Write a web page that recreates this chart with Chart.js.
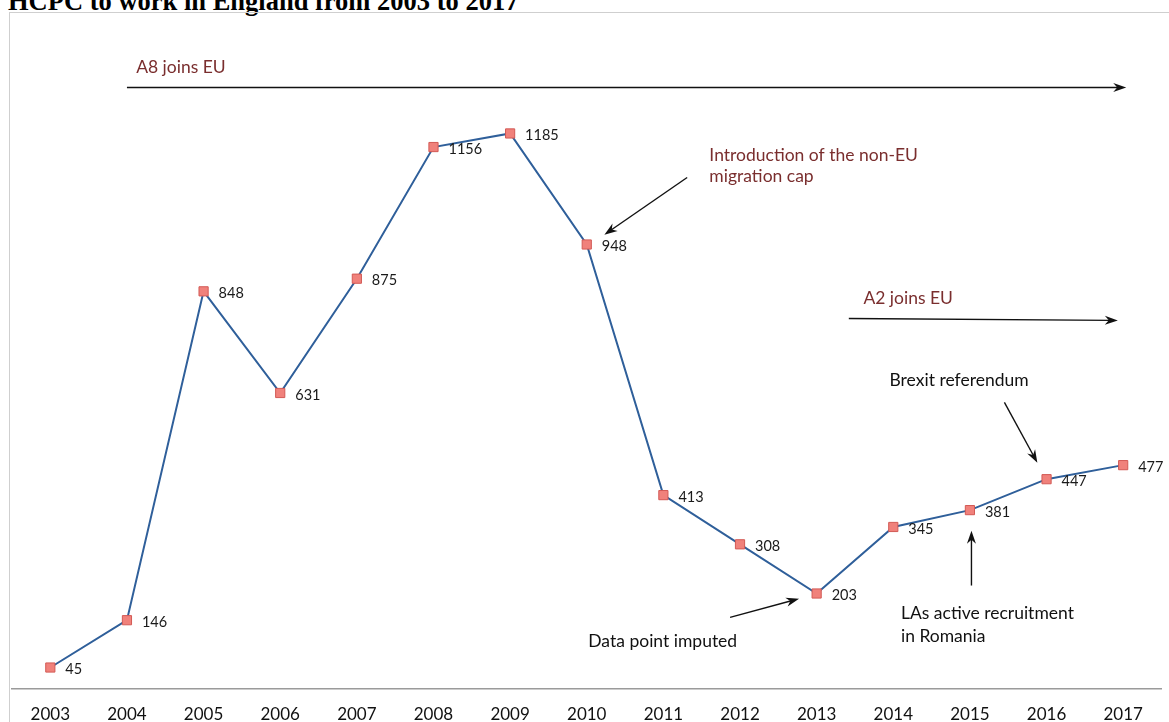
<!DOCTYPE html>
<html>
<head>
<meta charset="utf-8">
<script src="https://cdn.jsdelivr.net/npm/chart.js@4"></script>
<style>
  body{margin:0;background:#fff;overflow:hidden;width:1169px;height:722px;position:relative}
  #titulo{position:absolute;left:8px;top:-12px;font:bold 26.5px "Liberation Serif",serif;line-height:26.5px;color:#000;white-space:nowrap}
  #caixa{position:absolute;left:9px;top:12px;width:1200px;height:800px;border:1px solid #cfcfcf;box-sizing:border-box}
  #grafico{position:absolute;left:0;top:0}
</style>
</head>
<body>
<div id="titulo">HCPC to work in England from 2003 to 2017</div>
<div id="caixa"></div>
<canvas id="grafico" width="1169" height="722"></canvas>
<script>
const anos = ["2003","2004","2005","2006","2007","2008","2009","2010","2011","2012","2013","2014","2015","2016","2017"];
const valores = [45,146,848,631,875,1156,1185,948,413,308,203,345,381,447,477];

// notas: posicoes em coordenadas dos eixos (indice do ano, valor)
const notasTexto = [
  {x:1.12, y:1326, txt:"A8 joins EU", cor:"#7a2e2e"},
  {x:8.6, y:1138, txt:"Introduction of the non-EU", cor:"#7a2e2e"},
  {x:8.6, y:1093, txt:"migration cap", cor:"#7a2e2e"},
  {x:10.61, y:833, txt:"A2 joins EU", cor:"#7a2e2e"},
  {x:10.95, y:658, txt:"Brexit referendum", cor:"#111"},
  {x:7.02, y:100, txt:"Data point imputed", cor:"#111"},
  {x:11.1, y:160, txt:"LAs active recruitment", cor:"#111"},
  {x:11.1, y:111, txt:"in Romania", cor:"#111"}
];
const setas = [
  {x1:1.0, y1:1283, x2:14.04, y2:1283},
  {x1:8.31, y1:1091, x2:7.23, y2:969},
  {x1:10.42, y1:790, x2:13.93, y2:786},
  {x1:12.45, y1:611, x2:12.88, y2:482},
  {x1:8.87, y1:152, x2:9.77, y2:192},
  {x1:12.02, y1:220, x2:12.02, y2:337}
];

const fonte = '"Lato","Carlito",sans-serif';

const rotulos = {
  id:"rotulos",
  afterDatasetsDraw(chart){
    const ctx = chart.ctx;
    const meta = chart.getDatasetMeta(0);
    ctx.save();
    ctx.font = "14.5px " + fonte;
    ctx.fillStyle = "#1a1a1a";
    ctx.textBaseline = "middle";
    meta.data.forEach((p,i)=>{
      ctx.fillText(valores[i], p.x + 15, p.y + 2);
    });
    ctx.restore();
  }
};

const notas = {
  id:"notas",
  afterDraw(chart){
    const ctx = chart.ctx;
    const xs = chart.scales.x, ys = chart.scales.y;
    ctx.save();
    ctx.font = "17.5px " + fonte;
    ctx.textBaseline = "middle";
    notasTexto.forEach(n=>{
      ctx.fillStyle = n.cor;
      ctx.fillText(n.txt, xs.getPixelForValue(n.x), ys.getPixelForValue(n.y));
    });
    ctx.strokeStyle = "#111";
    ctx.fillStyle = "#111";
    ctx.lineWidth = 1.4;
    setas.forEach(s=>{
      const ax = xs.getPixelForValue(s.x1), ay = ys.getPixelForValue(s.y1);
      const bx = xs.getPixelForValue(s.x2), by = ys.getPixelForValue(s.y2);
      const ang = Math.atan2(by-ay, bx-ax);
      ctx.beginPath();
      ctx.moveTo(ax, ay);
      ctx.lineTo(bx - 6*Math.cos(ang), by - 6*Math.sin(ang));
      ctx.stroke();
      ctx.beginPath();
      ctx.moveTo(bx, by);
      ctx.lineTo(bx - 13*Math.cos(ang) + 4.5*Math.sin(ang), by - 13*Math.sin(ang) - 4.5*Math.cos(ang));
      ctx.lineTo(bx - 9*Math.cos(ang), by - 9*Math.sin(ang));
      ctx.lineTo(bx - 13*Math.cos(ang) - 4.5*Math.sin(ang), by - 13*Math.sin(ang) + 4.5*Math.cos(ang));
      ctx.closePath();
      ctx.fill();
    });
    ctx.restore();
  }
};

new Chart(document.getElementById("grafico"),{
  type:"line",
  data:{
    labels:anos,
    datasets:[{
      data:valores,
      borderColor:"#2f5f9a",
      borderWidth:2,
      tension:0,
      pointStyle:"rect",
      pointRadius:6.5,
      pointBackgroundColor:"#f0817b",
      pointBorderColor:"#d35a55",
      pointBorderWidth:1
    }]
  },
  options:{
    responsive:false,
    animation:false,
    layout:{padding:{left:12,right:3,top:14,bottom:-19}},
    plugins:{legend:{display:false},tooltip:{enabled:false}},
    scales:{
      x:{
        offset:true,
        grid:{display:false,drawTicks:false},
        border:{display:true,color:"#9a9a9a",width:1.5},
        ticks:{color:"#111",font:{family:fonte,size:17},padding:16}
      },
      y:{display:false,min:0,max:1440}
    }
  },
  plugins:[rotulos,notas]
});
</script>
</body>
</html>
